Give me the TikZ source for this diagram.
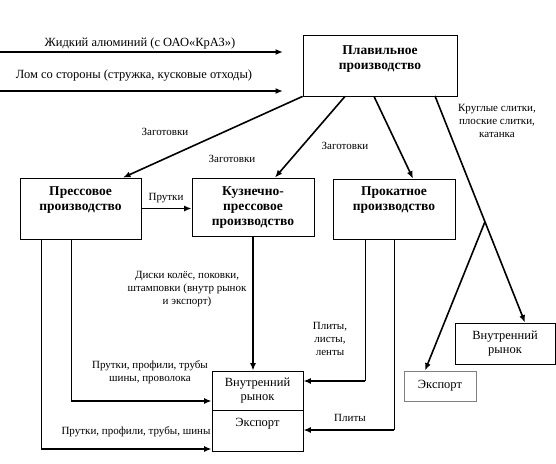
\documentclass[tikz,border=0pt]{standalone}
\usepackage{fontspec}
\setmainfont{Liberation Serif}
\usetikzlibrary{arrows.meta,calc}
\begin{document}
\begin{tikzpicture}[x=1pt,y=-1pt,
  box/.style={draw=black,line width=0.8pt,inner sep=0pt},
  title/.style={font=\fontsize{13.5}{14.8}\selectfont\bfseries,align=center,anchor=north,inner sep=0pt},
  lbl/.style={font=\fontsize{12.5}{14}\selectfont,align=center,inner sep=0pt},
  slbl/.style={font=\fontsize{11}{13}\selectfont,align=center,inner sep=0pt},
  arr/.style={line width=1.6pt,-{Latex[length=7.5pt,width=6pt]}},
  thin/.style={line width=0.8pt}]
\useasboundingbox (0,0) rectangle (556,463);
% boxes
\node[box,minimum width=154pt,minimum height=61pt] (plav) at (380,65.5) {};
\node[title] (plavt) at ([yshift=-11pt]plav.north) {Плавильное\\производство};
\node[box,minimum width=121pt,minimum height=61pt] (press) at (80.5,208.5) {};
\node[title] (presst) at ([yshift=-9pt]press.north) {Прессовое\\производство};
\node[box,minimum width=122pt,minimum height=58pt] (kuz) at (253,207) {};
\node[title] (kuzt) at ([yshift=-9pt]kuz.north) {Кузнечно-\\прессовое\\производство};
\node[box,minimum width=122pt,minimum height=60pt] (prok) at (394,209) {};
\node[title] (prokt) at ([yshift=-8pt]prok.north) {Прокатное\\производство};
\node[box,minimum width=100pt,minimum height=41pt,lbl] (vr2) at (505,343.5) {Внутренний\\рынок};
\node[box,draw=gray,minimum width=72pt,minimum height=30pt,lbl] (ex2) at (440,386) {Экспорт};
\node[box,minimum width=91pt,minimum height=39pt,lbl] (vr) at (257.5,390.5) {Внутренний\\рынок};
\node[box,minimum width=91pt,minimum height=41pt] (ex) at (257.5,430.5) {};
\node[lbl,anchor=north] (ext) at ([yshift=-8.5pt]ex.north) {Экспорт};
% input arrows
\coordinate (a1s) at (0,52); \coordinate (a1e) at (283,52);
\coordinate (a2s) at (0,91); \coordinate (a2e) at (283,91);
\draw[arr] (a1s) -- (a1e);
\draw[arr] (a2s) -- (a2e);
\node[lbl] (l1) at (140,43) {Жидкий алюминий (с ОАО«КрАЗ»)};
\node[lbl] (l2) at (134,76) {Лом со стороны (стружка, кусковые отходы)};
% from plav
\draw[arr] (plav.south west) -- (press.north -| 123,0);
\draw[arr] (plav.south west -| 345,0) -- (kuz.north -| 275,0);
\draw[arr] (plav.south west -| 374,0) -- (prok.north -| 413,0);
\coordinate (p4) at (435,96);
\coordinate (p4e) at (vr2.north -| 525,0);
\draw[arr] (p4) -- (p4e);
\coordinate (br) at ($(p4)!0.555!(p4e)$);
\draw[arr] (br) -- (ex2.north -| 425,0);
\node[slbl] (z1) at (165,132) {Заготовки};
\node[slbl] (z2) at (232,159) {Заготовки};
\node[slbl] (z3) at (345,146) {Заготовки};
\node[slbl] (ks) at (497,121) {Круглые слитки,\\ плоские слитки,\\ катанка};
% press -> kuz
\draw[arr] (press.east) -- (kuz.west |- press.east);
\node[slbl] (pr) at (166,198) {Прутки};
% kuz -> vr
\draw[arr] (kuz.south) -- (vr.north -| kuz.south);
\node[slbl] (dk) at (187,289) {Диски колёс, поковки,\\штамповки (внутр рынок\\и экспорт)};
% press -> bottom box
\coordinate (q1) at (71,401); \coordinate (q2) at (41,449);
\draw[thin] (press.south -| 71,0) -- (q1);
\draw[arr] (q1) -- (vr.west |- q1);
\draw[thin] (press.south -| 41,0) -- (q2);
\draw[arr] (q2) -- (ex.west |- q2);
\node[slbl] (pp1) at (150,372) {Прутки, профили, трубы\\шины, проволока};
\node[slbl] (pp2) at (136,432) {Прутки, профили, трубы, шины};
% prok -> bottom box
\coordinate (r1) at (365,381); \coordinate (r2) at (394,430);
\draw[thin] (prok.south -| 365,0) -- (r1);
\draw[arr] (r1) -- (vr.east |- r1);
\draw[thin] (prok.south -| 394,0) -- (r2);
\draw[arr] (r2) -- (ex.east |- r2);
\node[slbl] (pl) at (330,339) {Плиты,\\листы,\\ленты};
\node[slbl] (pl2) at (350,418) {Плиты};
\end{tikzpicture}
\end{document}
